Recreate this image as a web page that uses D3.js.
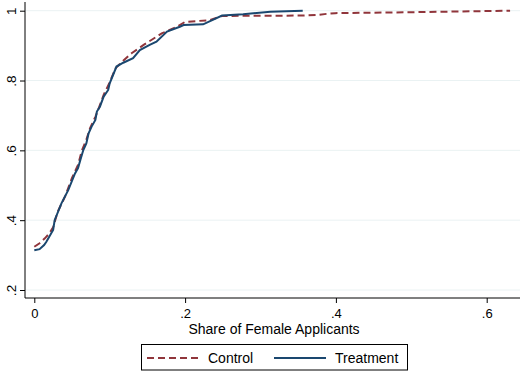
<!DOCTYPE html>
<html>
<head>
<meta charset="utf-8">
<script src="https://cdn.jsdelivr.net/npm/d3@7"></script>
<style>
  body { margin: 0; background: #fff; }
  text { font-family: "Liberation Sans", Arial, sans-serif; }
</style>
</head>
<body>
<svg width="521" height="372"></svg>
<script>
// Cumulative distribution of the share of female applicants
const controlX = [0.000, 0.007, 0.014, 0.020, 0.025, 0.031, 0.041, 0.050, 0.058, 0.063, 0.069, 0.074, 0.081, 0.086, 0.092, 0.099, 0.108, 0.119, 0.129, 0.145, 0.169, 0.189, 0.200, 0.233, 0.249, 0.352, 0.376, 0.388, 0.399, 0.512, 0.631];
const controlY = [0.324, 0.334, 0.348, 0.362, 0.380, 0.424, 0.469, 0.521, 0.558, 0.599, 0.630, 0.664, 0.696, 0.724, 0.759, 0.790, 0.836, 0.859, 0.878, 0.902, 0.935, 0.954, 0.968, 0.973, 0.985, 0.986, 0.988, 0.991, 0.993, 0.996, 1.000];

const treatmentX = [0.000, 0.007, 0.013, 0.016, 0.020, 0.025, 0.027, 0.036, 0.045, 0.054, 0.058, 0.061, 0.065, 0.069, 0.072, 0.076, 0.081, 0.083, 0.087, 0.092, 0.098, 0.100, 0.109, 0.118, 0.131, 0.140, 0.153, 0.162, 0.176, 0.193, 0.198, 0.224, 0.249, 0.277, 0.313, 0.356];
const treatmentY = [0.314, 0.317, 0.329, 0.338, 0.353, 0.372, 0.400, 0.448, 0.486, 0.534, 0.549, 0.572, 0.601, 0.620, 0.649, 0.668, 0.687, 0.711, 0.725, 0.754, 0.773, 0.792, 0.840, 0.851, 0.864, 0.887, 0.902, 0.911, 0.940, 0.954, 0.959, 0.961, 0.986, 0.990, 0.997, 1.000];

const xTicks = [0, 0.2, 0.4, 0.6];
const yTicks = [0.2, 0.4, 0.6, 0.8, 1];
const seriesNames = ["Control", "Treatment"];

const colors = {
  "Control": "#90353b",
  "Treatment": "#1a476f"
};

// Plot region (axis lines sit a bit outside the data range, Stata style)
const plot = { left: 25, right: 520, top: 2, bottom: 298 };

const svg = d3.select("svg");

const x = d3.scaleLinear()
  .domain([0, 0.6])
  .range([34.3, 486.7]);

const y = d3.scaleLinear()
  .domain([0.2, 1])
  .range([290, 10.7]);

const fmt = d => d === 0 ? "0" : d === 1 ? "1" : d3.format(".1f")(d).replace(/^0/, "");

// Gridlines
svg.append("g")
  .selectAll("line")
  .data(yTicks)
  .join("line")
    .attr("x1", plot.left + 1)
    .attr("x2", plot.right)
    .attr("y1", d => y(d))
    .attr("y2", d => y(d))
    .attr("stroke", "#eaf2f3")
    .attr("stroke-width", 1);

// Y axis
const yAxisGroup = svg.append("g")
  .attr("transform", `translate(${plot.left},0)`)
  .call(d3.axisLeft(y).tickValues(yTicks).tickSize(5).tickSizeOuter(0).tickFormat(fmt));
yAxisGroup.select(".domain").remove();
yAxisGroup.append("line")
  .attr("y1", plot.top)
  .attr("y2", plot.bottom)
  .attr("stroke", "#000");
yAxisGroup.selectAll(".tick text")
  .attr("x", 0)
  .attr("text-anchor", "middle")
  .attr("transform", "translate(-14,0) rotate(-90)")
  .attr("dy", "0.35em")
  .style("font-size", "13.5px")
  .attr("fill", "#000");

// X axis
const xAxisGroup = svg.append("g")
  .attr("transform", `translate(0,${plot.bottom})`)
  .call(d3.axisBottom(x).tickValues(xTicks).tickSize(5).tickSizeOuter(0).tickFormat(fmt));
xAxisGroup.select(".domain").remove();
xAxisGroup.append("line")
  .attr("x1", plot.left)
  .attr("x2", plot.right)
  .attr("stroke", "#000");
xAxisGroup.selectAll(".tick text")
  .attr("y", 10.5)
  .style("font-size", "13px")
  .attr("fill", "#000");

// X axis title
svg.append("text")
  .attr("x", 274)
  .attr("y", 334)
  .attr("text-anchor", "middle")
  .style("font-size", "14px")
  .text("Share of Female Applicants");

// Lines
const line = d3.line()
  .x(d => x(d[0]))
  .y(d => y(d[1]));

const controlData = controlX.map((v, i) => [v, controlY[i]]);
const treatmentData = treatmentX.map((v, i) => [v, treatmentY[i]]);

svg.append("path")
  .datum(controlData)
  .attr("fill", "none")
  .attr("stroke", colors["Control"])
  .attr("stroke-width", 2)
  .attr("stroke-dasharray", "7,4")
  .attr("d", line);

svg.append("path")
  .datum(treatmentData)
  .attr("fill", "none")
  .attr("stroke", colors["Treatment"])
  .attr("stroke-width", 2)
  .attr("d", line);

// Legend
const legend = svg.append("g");
legend.append("rect")
  .attr("x", 141.5)
  .attr("y", 344.5)
  .attr("width", 266)
  .attr("height", 25.5)
  .attr("fill", "#fff")
  .attr("stroke", "#000");

const legendItems = legend.selectAll("g")
  .data(seriesNames)
  .join("g")
    .attr("transform", (d, i) => `translate(${i === 0 ? 147 : 274},358)`);

legendItems.append("line")
  .attr("x1", 0)
  .attr("x2", 52)
  .attr("stroke", d => colors[d])
  .attr("stroke-width", 2)
  .attr("stroke-dasharray", d => d === "Control" ? "7,4" : null);

legendItems.append("text")
  .attr("x", 61)
  .attr("y", 5)
  .style("font-size", "14px")
  .text(d => d);
</script>
</body>
</html>
